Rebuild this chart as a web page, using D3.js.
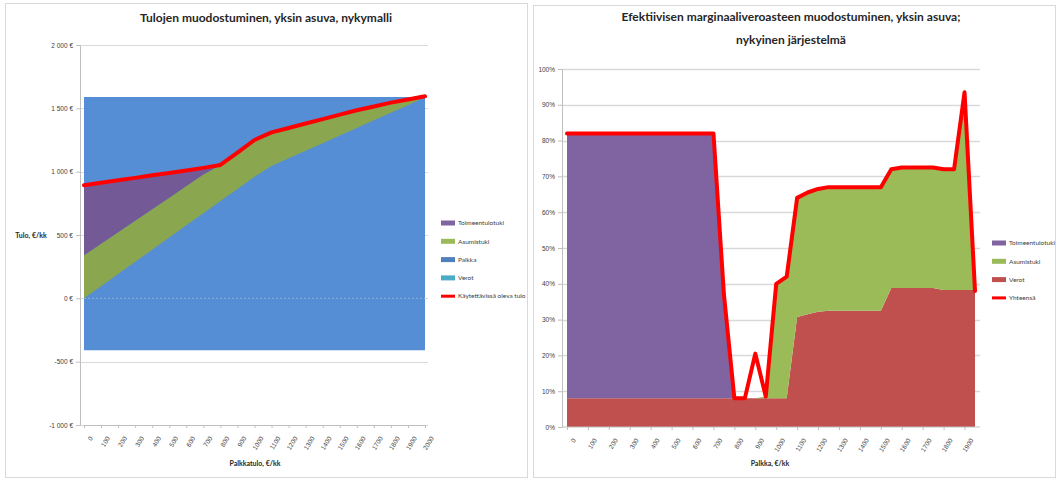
<!DOCTYPE html>
<html>
<head>
<meta charset="utf-8">
<script src="https://cdn.jsdelivr.net/npm/d3@7"></script>
<style>
  html, body { margin: 0; padding: 0; background: #fff; }
  svg { display: block; font-family: Lato, "Liberation Sans", sans-serif; }
</style>
</head>
<body>
<svg id="chart" width="1058" height="481"></svg>
<script>
// ---------- Tulojen muodostuminen (€/kk) ----------
const palkkatulo = [0, 100, 200, 300, 400, 500, 600, 700, 800, 900, 1000,
  1100, 1200, 1300, 1400, 1500, 1600, 1700, 1800, 1900, 2000];
const nettopalkka = [0, 96, 192, 288, 384, 480, 576, 672, 768, 864, 960,
  1045, 1105, 1165, 1225, 1285, 1345, 1405, 1465, 1525, 1590];
const asumistukiTulo = [340, 335, 330, 325, 320, 315, 310, 305, 285, 286, 290,
  265, 240, 215, 190, 165, 140, 110, 80, 45, 5];
const toimeentulotukiTulo = [553, 481, 410, 338, 267, 195, 124, 53, 0, 0, 0,
  0, 0, 0, 0, 0, 0, 0, 0, 0, 0];
const kaytettavissa = [893, 912, 932, 951, 971, 990, 1010, 1030, 1053, 1150, 1250,
  1310, 1345, 1380, 1415, 1450, 1485, 1515, 1545, 1570, 1595];
const palkkaTaso = [1590, 1590, 1590, 1590, 1590, 1590, 1590, 1590, 1590, 1590, 1590,
  1590, 1590, 1590, 1590, 1590, 1590, 1590, 1590, 1590, 1590];
const verotTaso = [-410, -410, -410, -410, -410, -410, -410, -410, -410, -410, -410,
  -410, -410, -410, -410, -410, -410, -410, -410, -410, -410];
const tuloTicks = [-1000, -500, 0, 500, 1000, 1500, 2000];
const tuloTickLabels = ["-1 000 €", "-500 €", "0 €", "500 €", "1 000 €", "1 500 €", "2 000 €"];

// ---------- Efektiivinen marginaaliveroaste (%) ----------
const palkka = [0, 50, 100, 150, 200, 250, 300, 350, 400, 450, 500, 550, 600, 650, 700,
  750, 800, 850, 900, 950, 1000, 1050, 1100, 1150, 1200, 1250, 1300, 1350, 1400, 1450,
  1500, 1550, 1600, 1650, 1700, 1750, 1800, 1850, 1900, 1950];
const toimeentulotukiEmv = [74, 74, 74, 74, 74, 74, 74, 74, 74, 74, 74, 74, 74, 74, 74,
  29, 0, 0, 0, 0, 0, 0, 0, 0, 0, 0, 0, 0, 0, 0,
  0, 0, 0, 0, 0, 0, 0, 0, 0, 0];
const asumistukiEmv = [0, 0, 0, 0, 0, 0, 0, 0, 0, 0, 0, 0, 0, 0, 0,
  0, 0, 0, 0, 0.5, 32, 34, 33.3, 34, 34.3, 34.5, 34.5, 34.5, 34.5, 34.5,
  34.5, 33.2, 33.7, 33.7, 33.7, 33.7, 33.7, 33.7, 55.2, 0];
const verotEmv = [8, 8, 8, 8, 8, 8, 8, 8, 8, 8, 8, 8, 8, 8, 8,
  8, 8, 8, 8, 8, 8, 8, 30.7, 31.5, 32.2, 32.5, 32.5, 32.5, 32.5, 32.5,
  32.5, 38.8, 38.8, 38.8, 38.8, 38.8, 38.3, 38.3, 38.3, 38.3];
const yhteensaEmv = [82, 82, 82, 82, 82, 82, 82, 82, 82, 82, 82, 82, 82, 82, 82,
  37, 8, 8, 20.5, 8.5, 40, 42, 64, 65.5, 66.5, 67, 67, 67, 67, 67,
  67, 72, 72.5, 72.5, 72.5, 72.5, 72, 72, 93.5, 38];
const palkkaTicks = [0, 100, 200, 300, 400, 500, 600, 700, 800, 900, 1000,
  1100, 1200, 1300, 1400, 1500, 1600, 1700, 1800, 1900];
const emvTicks = [0, 10, 20, 30, 40, 50, 60, 70, 80, 90, 100];

const svg = d3.select("#chart");
const gridCol = "#d9d9d9", axisCol = "#bfbfbf", textCol = "#404040";

// panel frames
svg.append("rect").attr("x", 5.5).attr("y", 3.5).attr("width", 522).attr("height", 474)
  .attr("fill", "#fff").attr("stroke", "#d9d9d9");
svg.append("rect").attr("x", 533.5).attr("y", 5.5).attr("width", 522).attr("height", 472)
  .attr("fill", "#fff").attr("stroke", "#d9d9d9");

// ================= Left chart =================
{
  const g = svg.append("g");
  const x = d3.scalePoint().domain(palkkatulo).range([84, 425]);
  const y = d3.scaleLinear().domain([-1000, 2000]).range([425, 45]);

  // gridlines
  g.append("g").selectAll("line").data(tuloTicks).join("line")
    .attr("x1", 80).attr("x2", 428)
    .attr("y1", d => Math.round(y(d)) + 0.5).attr("y2", d => Math.round(y(d)) + 0.5)
    .attr("stroke", gridCol).attr("stroke-width", 1.2);

  const idx = d3.range(palkkatulo.length);
  const greenTop = idx.map(i => nettopalkka[i] + asumistukiTulo[i]);
  const purpleTop = idx.map(i => greenTop[i] + toimeentulotukiTulo[i]);

  // palkka band (blue)
  g.append("path").datum(idx)
    .attr("d", d3.area().x(i => x(palkkatulo[i])).y0(i => y(verotTaso[i])).y1(i => y(palkkaTaso[i])))
    .attr("fill", "#558ed5");
  // zero line across the band
  g.append("line").attr("x1", 84).attr("x2", 425).attr("y1", y(0)).attr("y2", y(0))
    .attr("stroke", "#b8c8dc").attr("stroke-width", 1).attr("stroke-dasharray", "2,2").attr("opacity", 0.6);
  // asumistuki (green)
  g.append("path").datum(idx)
    .attr("d", d3.area().x(i => x(palkkatulo[i])).y0(i => y(nettopalkka[i])).y1(i => y(greenTop[i])))
    .attr("fill", "#8aa64e");
  // toimeentulotuki (purple)
  g.append("path").datum(idx)
    .attr("d", d3.area().x(i => x(palkkatulo[i])).y0(i => y(greenTop[i])).y1(i => y(purpleTop[i])))
    .attr("fill", "#735a96");
  // käytettävissä oleva tulo
  g.append("path").datum(idx)
    .attr("d", d3.line().x(i => x(palkkatulo[i])).y(i => y(kaytettavissa[i])))
    .attr("fill", "none").attr("stroke", "#ff0000").attr("stroke-width", 4)
    .attr("stroke-linejoin", "round").attr("stroke-linecap", "round");

  // y axis
  const ya = g.append("g").attr("transform", "translate(80,0)")
    .call(d3.axisLeft(y).tickValues(tuloTicks).tickFormat((d, i) => tuloTickLabels[i]).tickSize(4).tickPadding(3));
  ya.select(".domain").attr("stroke", axisCol);
  ya.selectAll(".tick line").attr("stroke", axisCol);
  ya.selectAll("text").attr("fill", textCol).attr("font-size", 6.5);

  // x axis
  const xa = g.append("g").attr("transform", "translate(0,425)")
    .call(d3.axisBottom(x).tickSize(3).tickSizeOuter(0));
  xa.select(".domain").attr("stroke", axisCol);
  xa.selectAll(".tick line").attr("stroke", axisCol);
  xa.selectAll("text").attr("fill", textCol).attr("font-size", 6.5)
    .attr("text-anchor", "end").attr("transform", "translate(2,9) rotate(-58)").attr("dy", "0.3em");

  g.append("text").attr("x", 266).attr("y", 22).attr("text-anchor", "middle")
    .attr("font-size", 12).attr("font-weight", "bold").attr("fill", "#262626")
    .text("Tulojen muodostuminen, yksin asuva, nykymalli");
  g.append("text").attr("x", 31).attr("y", 238).attr("text-anchor", "middle")
    .attr("font-size", 7).attr("font-weight", "bold").attr("fill", "#262626").text("Tulo, €/kk");
  g.append("text").attr("x", 255).attr("y", 466).attr("text-anchor", "middle")
    .attr("font-size", 7).attr("font-weight", "bold").attr("fill", "#262626").text("Palkkatulo, €/kk");

  // legend
  const leg = [
    { n: "Toimeentulotuki", c: "#8064a2", t: "a" },
    { n: "Asumistuki", c: "#9bbb59", t: "a" },
    { n: "Palkka", c: "#4f81bd", t: "a" },
    { n: "Verot", c: "#4bacc6", t: "a" },
    { n: "Käytettävissä oleva tulo", c: "#ff0000", t: "l" }
  ];
  const lg = g.append("g").attr("transform", "translate(441,223)");
  leg.forEach((d, i) => {
    const row = lg.append("g").attr("transform", `translate(0,${i * 18.3})`);
    row.append("rect").attr("x", 0).attr("y", d.t === "a" ? -2.5 : -1.5).attr("width", 14)
      .attr("height", d.t === "a" ? 5 : 3).attr("fill", d.c);
    row.append("text").attr("x", 17).attr("y", 0).attr("dy", "0.35em")
      .attr("font-size", 6.5).attr("fill", textCol).text(d.n);
  });
}

// ================= Right chart =================
{
  const g = svg.append("g");
  const x = d3.scaleLinear().domain([0, 1950]).range([567, 975]);
  const y = d3.scaleLinear().domain([0, 100]).range([427, 69]);

  g.append("g").selectAll("line").data(emvTicks.filter(d => d > 0)).join("line")
    .attr("x1", 562).attr("x2", 980)
    .attr("y1", d => Math.round(y(d)) + 0.5).attr("y2", d => Math.round(y(d)) + 0.5)
    .attr("stroke", gridCol).attr("stroke-width", 1.6);

  const idx = d3.range(palkka.length);
  const stack = d3.stack().keys(["verot", "asumistuki", "toimeentulotuki"])(
    idx.map(i => ({ verot: verotEmv[i], asumistuki: asumistukiEmv[i], toimeentulotuki: toimeentulotukiEmv[i] }))
  );
  const colors = { verot: "#c0504d", asumistuki: "#9bbb59", toimeentulotuki: "#8064a2" };
  const area = d3.area().x((d, i) => x(palkka[i])).y0(d => y(d[0])).y1(d => y(d[1]));
  g.append("g").selectAll("path").data(stack).join("path")
    .attr("d", area).attr("fill", d => colors[d.key]);

  g.append("path").datum(idx)
    .attr("d", d3.line().x(i => x(palkka[i])).y(i => y(yhteensaEmv[i])))
    .attr("fill", "none").attr("stroke", "#ff0000").attr("stroke-width", 4)
    .attr("stroke-linejoin", "round").attr("stroke-linecap", "round");

  const ya = g.append("g").attr("transform", "translate(562,0)")
    .call(d3.axisLeft(y).tickValues(emvTicks).tickFormat(d => d + "%").tickSize(4).tickPadding(3));
  ya.select(".domain").attr("stroke", axisCol);
  ya.selectAll(".tick line").attr("stroke", axisCol);
  ya.selectAll("text").attr("fill", textCol).attr("font-size", 6.5);

  const xa = g.append("g").attr("transform", "translate(0,427)")
    .call(d3.axisBottom(x).tickValues(palkkaTicks).tickFormat(d3.format("d")).tickSize(3).tickSizeOuter(0));
  xa.select(".domain").attr("stroke", axisCol).attr("d", "M562,0H980");
  xa.selectAll(".tick line").attr("stroke", axisCol);
  xa.selectAll("text").attr("fill", textCol).attr("font-size", 6.5)
    .attr("text-anchor", "end").attr("transform", "translate(2,9) rotate(-58)").attr("dy", "0.3em");

  g.append("text").attr("x", 791).attr("y", 21).attr("text-anchor", "middle")
    .attr("font-size", 12).attr("font-weight", "bold").attr("fill", "#262626")
    .text("Efektiivisen marginaaliveroasteen muodostuminen, yksin asuva;");
  g.append("text").attr("x", 791).attr("y", 44).attr("text-anchor", "middle")
    .attr("font-size", 12).attr("font-weight", "bold").attr("fill", "#262626")
    .text("nykyinen järjestelmä");
  g.append("text").attr("x", 770).attr("y", 466).attr("text-anchor", "middle")
    .attr("font-size", 7).attr("font-weight", "bold").attr("fill", "#262626").text("Palkka, €/kk");

  const leg = [
    { n: "Toimeentulotuki", c: "#8064a2", t: "a" },
    { n: "Asumistuki", c: "#9bbb59", t: "a" },
    { n: "Verot", c: "#c0504d", t: "a" },
    { n: "Yhteensä", c: "#ff0000", t: "l" }
  ];
  const lg = g.append("g").attr("transform", "translate(992,243)");
  leg.forEach((d, i) => {
    const row = lg.append("g").attr("transform", `translate(0,${i * 18.3})`);
    row.append("rect").attr("x", 0).attr("y", d.t === "a" ? -2.5 : -1.5).attr("width", 14)
      .attr("height", d.t === "a" ? 5 : 3).attr("fill", d.c);
    row.append("text").attr("x", 17).attr("y", 0).attr("dy", "0.35em")
      .attr("font-size", 6.5).attr("fill", textCol).text(d.n);
  });
}
</script>
</body>
</html>
